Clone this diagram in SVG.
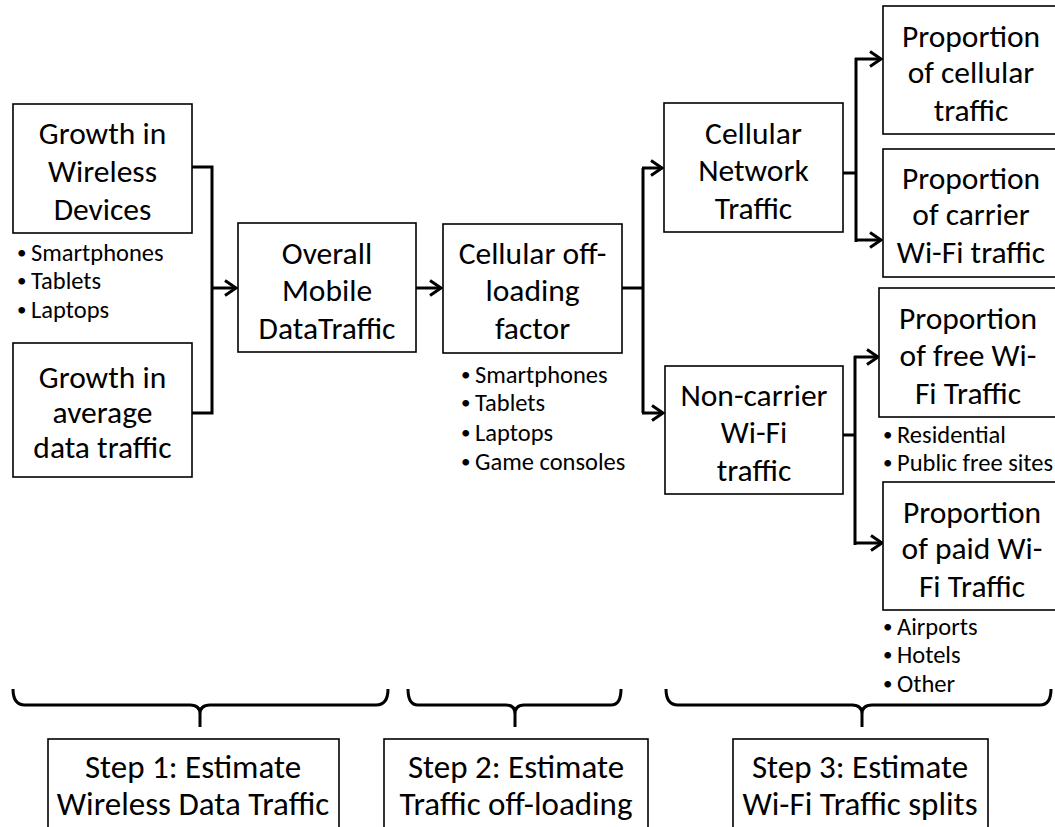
<svg xmlns="http://www.w3.org/2000/svg" width="1055" height="827" viewBox="0 0 1055 827">
  <style>
    .box { fill: #fff; stroke: #000; stroke-width: 1.6; }
    .lbl { font-family: Carlito, Lato, "Liberation Sans", sans-serif; font-size: 31.5px; fill: #000; text-anchor: middle; }
    .step { font-family: Carlito, Lato, "Liberation Sans", sans-serif; font-size: 33px; fill: #000; text-anchor: middle; }
    .bul { font-family: Carlito, Lato, "Liberation Sans", sans-serif; font-size: 24.5px; fill: #000; }
    .dot { font-size: 19px; }
    .wire { fill: none; stroke: #000; stroke-width: 3; }
    .arrow { fill: none; stroke: #000; stroke-width: 3; marker-end: url(#head); }
    .brace { fill: none; stroke: #000; stroke-width: 3; stroke-linejoin: round; }
  </style>
  <defs>
    <marker id="head" markerUnits="userSpaceOnUse" markerWidth="16" markerHeight="20" refX="13" refY="10" orient="auto">
      <path d="M2,2.5 L13,10 L2,17.5" fill="none" stroke="#000" stroke-width="3"/>
    </marker>
  </defs>
  <rect width="1055" height="827" fill="#fff"/>

  <!-- connectors -->
  <g id="connectors">
    <path class="wire" d="M192,167 H212 V413 H192"/>
    <path class="arrow" d="M212,288 H236"/>
    <path class="arrow" d="M416,288 H441"/>
    <path class="wire" d="M622,288 H643 M643,168 V413"/>
    <path class="arrow" d="M642,168 H662"/>
    <path class="arrow" d="M642,413 H663"/>
    <path class="wire" d="M843,173 H856 M856,58 V242"/>
    <path class="arrow" d="M855,59 H881"/>
    <path class="arrow" d="M855,240 H881"/>
    <path class="wire" d="M843,435 H855 M855,356 V545"/>
    <path class="arrow" d="M854,357 H878"/>
    <path class="arrow" d="M854,543 H882"/>
  </g>

  <!-- step 1 inputs -->
  <g id="growth-devices">
    <rect class="box" x="13" y="104" width="179" height="129"/>
    <text class="lbl" x="102.5" y="144">Growth in</text>
    <text class="lbl" x="102.5" y="182">Wireless</text>
    <text class="lbl" x="102.5" y="220">Devices</text>
    <text class="bul"><tspan class="dot" x="17" y="259">•</tspan><tspan x="31" y="261">Smartphones</tspan></text>
    <text class="bul"><tspan class="dot" x="17" y="287">•</tspan><tspan x="31" y="289">Tablets</tspan></text>
    <text class="bul"><tspan class="dot" x="17" y="316">•</tspan><tspan x="31" y="318">Laptops</tspan></text>
  </g>
  <g id="growth-average">
    <rect class="box" x="13" y="343" width="179" height="134"/>
    <text class="lbl" x="102.5" y="388">Growth in</text>
    <text class="lbl" x="102.5" y="423">average</text>
    <text class="lbl" x="102.5" y="458">data traffic</text>
  </g>
  <g id="overall-traffic">
    <rect class="box" x="238" y="223" width="178" height="129"/>
    <text class="lbl" x="327" y="264">Overall</text>
    <text class="lbl" x="327" y="301">Mobile</text>
    <text class="lbl" x="327" y="339">DataTraffic</text>
  </g>

  <!-- step 2 -->
  <g id="offload-factor">
    <rect class="box" x="443" y="224" width="179" height="129"/>
    <text class="lbl" x="532.5" y="264">Cellular off-</text>
    <text class="lbl" x="532.5" y="301">loading</text>
    <text class="lbl" x="532.5" y="339">factor</text>
    <text class="bul"><tspan class="dot" x="461" y="381">•</tspan><tspan x="475" y="383">Smartphones</tspan></text>
    <text class="bul"><tspan class="dot" x="461" y="409">•</tspan><tspan x="475" y="411">Tablets</tspan></text>
    <text class="bul"><tspan class="dot" x="461" y="439">•</tspan><tspan x="475" y="441">Laptops</tspan></text>
    <text class="bul"><tspan class="dot" x="461" y="468">•</tspan><tspan x="475" y="470">Game consoles</tspan></text>
  </g>

  <!-- step 3 -->
  <g id="cellular-network">
    <rect class="box" x="664" y="103" width="179" height="129"/>
    <text class="lbl" x="753.5" y="144">Cellular</text>
    <text class="lbl" x="753.5" y="181">Network</text>
    <text class="lbl" x="753.5" y="219">Traffic</text>
  </g>
  <g id="non-carrier-wifi">
    <rect class="box" x="665" y="366" width="178" height="128"/>
    <text class="lbl" x="754" y="406">Non-carrier</text>
    <text class="lbl" x="754" y="443">Wi-Fi</text>
    <text class="lbl" x="754" y="481">traffic</text>
  </g>
  <g id="prop-cellular">
    <rect class="box" x="883" y="6" width="180" height="128"/>
    <text class="lbl" x="971" y="47">Proportion</text>
    <text class="lbl" x="971" y="83">of cellular</text>
    <text class="lbl" x="971" y="121">traffic</text>
  </g>
  <g id="prop-carrier-wifi">
    <rect class="box" x="883" y="149" width="180" height="128"/>
    <text class="lbl" x="971" y="189">Proportion</text>
    <text class="lbl" x="971" y="225">of carrier</text>
    <text class="lbl" x="971" y="263">Wi-Fi traffic</text>
  </g>
  <g id="prop-free-wifi">
    <rect class="box" x="879" y="288" width="180" height="129"/>
    <text class="lbl" x="968" y="329">Proportion</text>
    <text class="lbl" x="968" y="366">of free Wi-</text>
    <text class="lbl" x="968" y="404">Fi Traffic</text>
    <text class="bul"><tspan class="dot" x="883" y="441">•</tspan><tspan x="897" y="443">Residential</tspan></text>
    <text class="bul"><tspan class="dot" x="883" y="469">•</tspan><tspan x="897" y="471">Public free sites</tspan></text>
  </g>
  <g id="prop-paid-wifi">
    <rect class="box" x="883" y="482" width="180" height="128"/>
    <text class="lbl" x="972" y="523">Proportion</text>
    <text class="lbl" x="972" y="559">of paid Wi-</text>
    <text class="lbl" x="972" y="597">Fi Traffic</text>
    <text class="bul"><tspan class="dot" x="883" y="633">•</tspan><tspan x="897" y="635">Airports</tspan></text>
    <text class="bul"><tspan class="dot" x="883" y="661">•</tspan><tspan x="897" y="663">Hotels</tspan></text>
    <text class="bul"><tspan class="dot" x="883" y="690">•</tspan><tspan x="897" y="692">Other</tspan></text>
  </g>

  <!-- braces grouping the steps -->
  <g id="braces">
    <path class="brace" d="M13,689 Q13,705 25,705 H190 Q200,705 200,714 V727 M200,714 Q200,705 210,705 H376 Q388,705 388,689"/>
    <path class="brace" d="M408,689 Q408,705 418,705 H506 Q515,705 515,714 V727 M515,714 Q515,705 524,705 H611 Q621,705 621,689"/>
    <path class="brace" d="M666,689 Q666,705 678,705 H852 Q862,705 862,714 V727 M862,714 Q862,705 872,705 H1040 Q1051,705 1051,689"/>
  </g>

  <!-- step labels -->
  <g id="step1">
    <rect class="box" x="48" y="739" width="291" height="100"/>
    <text class="step" x="193" y="778">Step 1: Estimate</text>
    <text class="step" x="193" y="815">Wireless Data Traffic</text>
  </g>
  <g id="step2">
    <rect class="box" x="384" y="739" width="264" height="100"/>
    <text class="step" x="516" y="778">Step 2: Estimate</text>
    <text class="step" x="516" y="815">Traffic off-loading</text>
  </g>
  <g id="step3">
    <rect class="box" x="733" y="739" width="255" height="100"/>
    <text class="step" x="860" y="778">Step 3: Estimate</text>
    <text class="step" x="860" y="815">Wi-Fi Traffic splits</text>
  </g>
</svg>
